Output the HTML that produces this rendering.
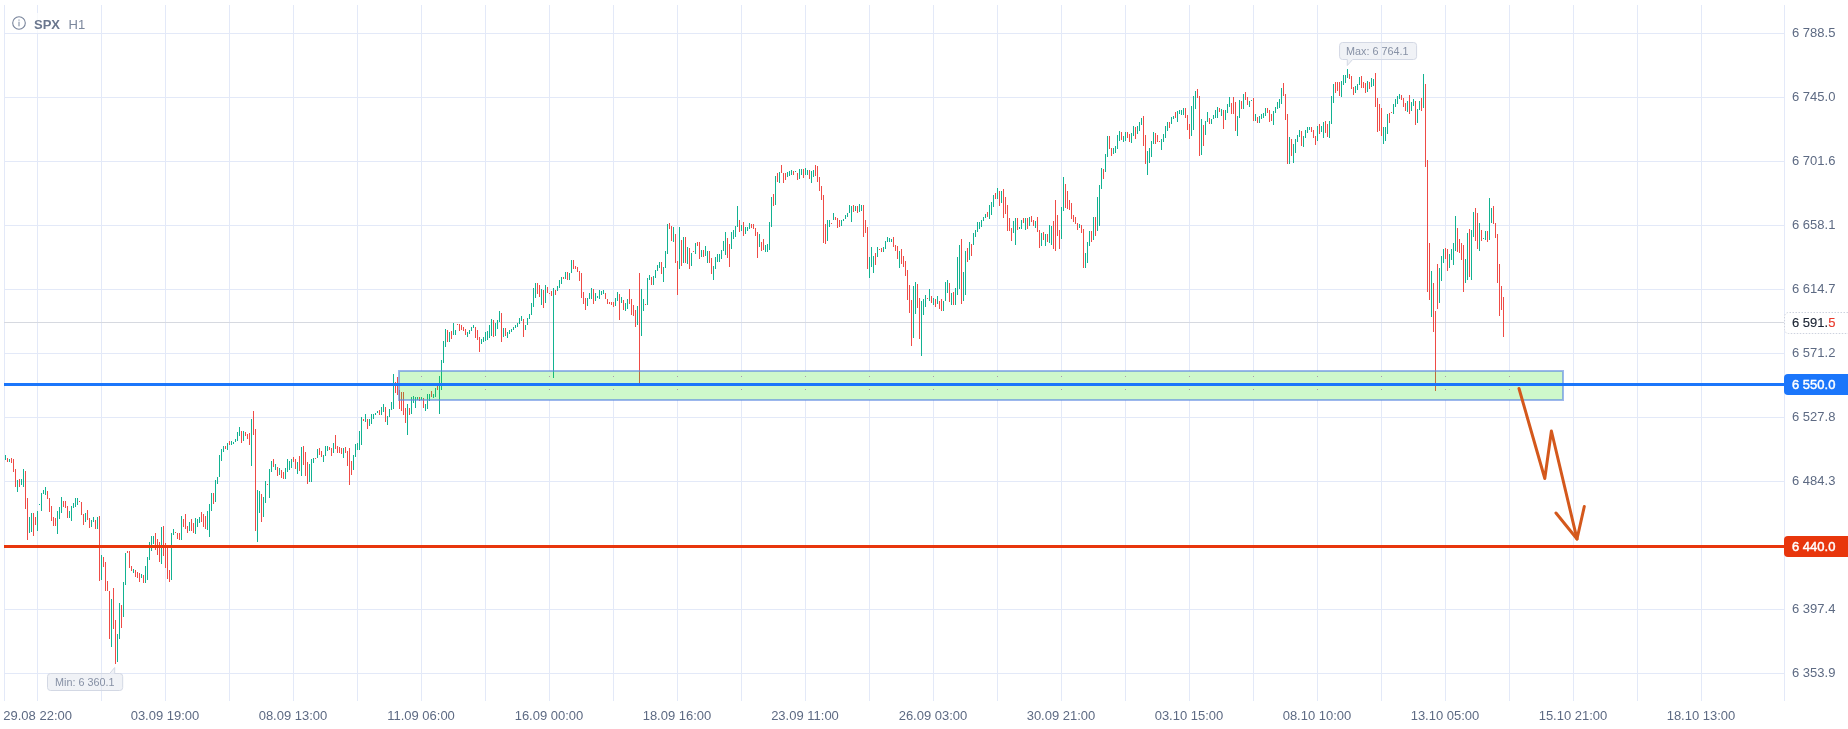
<!DOCTYPE html><html><head><meta charset="utf-8"><title>SPX H1</title>
<style>html,body{margin:0;padding:0;background:#fff}body{width:1848px;height:729px;overflow:hidden}svg{display:block}text{font-family:"Liberation Sans",Arial,sans-serif}</style></head><body>
<svg width="1848" height="729" viewBox="0 0 1848 729">
<rect width="1848" height="729" fill="#fff"/>
<g fill="#e3e9f8" shape-rendering="crispEdges">
<rect x="4" y="5" width="1" height="696"/>
<rect x="37" y="5" width="1" height="696"/>
<rect x="101" y="5" width="1" height="696"/>
<rect x="165" y="5" width="1" height="696"/>
<rect x="229" y="5" width="1" height="696"/>
<rect x="293" y="5" width="1" height="696"/>
<rect x="357" y="5" width="1" height="696"/>
<rect x="421" y="5" width="1" height="696"/>
<rect x="485" y="5" width="1" height="696"/>
<rect x="549" y="5" width="1" height="696"/>
<rect x="613" y="5" width="1" height="696"/>
<rect x="677" y="5" width="1" height="696"/>
<rect x="741" y="5" width="1" height="696"/>
<rect x="805" y="5" width="1" height="696"/>
<rect x="869" y="5" width="1" height="696"/>
<rect x="933" y="5" width="1" height="696"/>
<rect x="997" y="5" width="1" height="696"/>
<rect x="1061" y="5" width="1" height="696"/>
<rect x="1125" y="5" width="1" height="696"/>
<rect x="1189" y="5" width="1" height="696"/>
<rect x="1253" y="5" width="1" height="696"/>
<rect x="1317" y="5" width="1" height="696"/>
<rect x="1381" y="5" width="1" height="696"/>
<rect x="1445" y="5" width="1" height="696"/>
<rect x="1509" y="5" width="1" height="696"/>
<rect x="1573" y="5" width="1" height="696"/>
<rect x="1637" y="5" width="1" height="696"/>
<rect x="1701" y="5" width="1" height="696"/>
<rect x="1784" y="5" width="1" height="696"/>
<rect x="4" y="33" width="1780" height="1"/>
<rect x="4" y="97" width="1780" height="1"/>
<rect x="4" y="161" width="1780" height="1"/>
<rect x="4" y="225" width="1780" height="1"/>
<rect x="4" y="289" width="1780" height="1"/>
<rect x="4" y="353" width="1780" height="1"/>
<rect x="4" y="417" width="1780" height="1"/>
<rect x="4" y="481" width="1780" height="1"/>
<rect x="4" y="545" width="1780" height="1"/>
<rect x="4" y="609" width="1780" height="1"/>
<rect x="4" y="673" width="1780" height="1"/>
</g>
<rect x="4" y="322" width="1780" height="1" fill="#d6d9e0" shape-rendering="crispEdges"/>
<rect x="399" y="371" width="1164" height="29" fill="#fff"/>
<rect x="8" y="13" width="84" height="20" fill="#fff" fill-opacity="0.75"/>
<g fill="#12b291" shape-rendering="crispEdges">
<rect x="5" y="455" width="1" height="5"/>
<rect x="9" y="459" width="1" height="3"/>
<rect x="17" y="480" width="1" height="12"/>
<rect x="21" y="479" width="1" height="6"/>
<rect x="23" y="469" width="1" height="18"/>
<rect x="29" y="517" width="1" height="16"/>
<rect x="31" y="513" width="1" height="19"/>
<rect x="37" y="511" width="1" height="20"/>
<rect x="39" y="504" width="1" height="1"/>
<rect x="41" y="493" width="1" height="18"/>
<rect x="43" y="490" width="1" height="4"/>
<rect x="45" y="487" width="1" height="8"/>
<rect x="57" y="511" width="1" height="23"/>
<rect x="59" y="507" width="1" height="12"/>
<rect x="61" y="497" width="1" height="16"/>
<rect x="69" y="511" width="1" height="7"/>
<rect x="71" y="506" width="1" height="15"/>
<rect x="73" y="503" width="1" height="5"/>
<rect x="75" y="498" width="1" height="9"/>
<rect x="77" y="498" width="1" height="7"/>
<rect x="85" y="513" width="1" height="9"/>
<rect x="91" y="520" width="1" height="7"/>
<rect x="93" y="517" width="1" height="5"/>
<rect x="97" y="517" width="1" height="12"/>
<rect x="101" y="555" width="1" height="25"/>
<rect x="111" y="599" width="1" height="48"/>
<rect x="117" y="634" width="1" height="28"/>
<rect x="119" y="603" width="1" height="36"/>
<rect x="123" y="582" width="1" height="35"/>
<rect x="125" y="553" width="1" height="32"/>
<rect x="133" y="569" width="1" height="4"/>
<rect x="141" y="574" width="1" height="4"/>
<rect x="145" y="566" width="1" height="17"/>
<rect x="147" y="557" width="1" height="23"/>
<rect x="149" y="542" width="1" height="18"/>
<rect x="151" y="536" width="1" height="15"/>
<rect x="153" y="536" width="1" height="8"/>
<rect x="161" y="527" width="1" height="37"/>
<rect x="171" y="533" width="1" height="47"/>
<rect x="173" y="529" width="1" height="6"/>
<rect x="181" y="516" width="1" height="24"/>
<rect x="189" y="522" width="1" height="9"/>
<rect x="195" y="518" width="1" height="16"/>
<rect x="197" y="519" width="1" height="8"/>
<rect x="199" y="517" width="1" height="6"/>
<rect x="207" y="511" width="1" height="19"/>
<rect x="209" y="504" width="1" height="33"/>
<rect x="211" y="493" width="1" height="18"/>
<rect x="215" y="480" width="1" height="22"/>
<rect x="217" y="477" width="1" height="7"/>
<rect x="219" y="455" width="1" height="22"/>
<rect x="221" y="449" width="1" height="12"/>
<rect x="223" y="446" width="1" height="6"/>
<rect x="227" y="443" width="1" height="7"/>
<rect x="231" y="441" width="1" height="4"/>
<rect x="233" y="442" width="1" height="2"/>
<rect x="235" y="439" width="1" height="3"/>
<rect x="237" y="432" width="1" height="9"/>
<rect x="239" y="427" width="1" height="9"/>
<rect x="243" y="431" width="1" height="10"/>
<rect x="251" y="419" width="1" height="47"/>
<rect x="257" y="490" width="1" height="52"/>
<rect x="259" y="491" width="1" height="22"/>
<rect x="263" y="497" width="1" height="20"/>
<rect x="265" y="481" width="1" height="22"/>
<rect x="269" y="469" width="1" height="29"/>
<rect x="271" y="461" width="1" height="11"/>
<rect x="275" y="464" width="1" height="6"/>
<rect x="279" y="468" width="1" height="7"/>
<rect x="285" y="468" width="1" height="11"/>
<rect x="287" y="459" width="1" height="13"/>
<rect x="289" y="461" width="1" height="9"/>
<rect x="291" y="459" width="1" height="9"/>
<rect x="297" y="462" width="1" height="12"/>
<rect x="301" y="447" width="1" height="29"/>
<rect x="309" y="464" width="1" height="18"/>
<rect x="311" y="459" width="1" height="23"/>
<rect x="313" y="458" width="1" height="5"/>
<rect x="317" y="449" width="1" height="9"/>
<rect x="323" y="455" width="1" height="7"/>
<rect x="325" y="446" width="1" height="10"/>
<rect x="327" y="446" width="1" height="5"/>
<rect x="333" y="443" width="1" height="10"/>
<rect x="343" y="448" width="1" height="10"/>
<rect x="353" y="455" width="1" height="15"/>
<rect x="355" y="444" width="1" height="13"/>
<rect x="357" y="443" width="1" height="7"/>
<rect x="359" y="431" width="1" height="19"/>
<rect x="361" y="417" width="1" height="28"/>
<rect x="365" y="414" width="1" height="8"/>
<rect x="369" y="419" width="1" height="7"/>
<rect x="371" y="414" width="1" height="10"/>
<rect x="373" y="414" width="1" height="5"/>
<rect x="375" y="413" width="1" height="2"/>
<rect x="377" y="411" width="1" height="2"/>
<rect x="381" y="407" width="1" height="8"/>
<rect x="383" y="404" width="1" height="8"/>
<rect x="387" y="416" width="1" height="9"/>
<rect x="389" y="409" width="1" height="8"/>
<rect x="391" y="402" width="1" height="8"/>
<rect x="393" y="374" width="1" height="35"/>
<rect x="407" y="404" width="1" height="31"/>
<rect x="411" y="397" width="1" height="17"/>
<rect x="413" y="396" width="1" height="7"/>
<rect x="415" y="397" width="1" height="11"/>
<rect x="417" y="397" width="1" height="3"/>
<rect x="421" y="397" width="1" height="3"/>
<rect x="425" y="404" width="1" height="7"/>
<rect x="427" y="394" width="1" height="15"/>
<rect x="429" y="394" width="1" height="7"/>
<rect x="433" y="394" width="1" height="4"/>
<rect x="435" y="388" width="1" height="9"/>
<rect x="439" y="376" width="1" height="38"/>
<rect x="441" y="360" width="1" height="30"/>
<rect x="443" y="341" width="1" height="22"/>
<rect x="445" y="329" width="1" height="18"/>
<rect x="449" y="332" width="1" height="10"/>
<rect x="453" y="323" width="1" height="12"/>
<rect x="455" y="330" width="1" height="5"/>
<rect x="467" y="332" width="1" height="5"/>
<rect x="469" y="330" width="1" height="4"/>
<rect x="471" y="327" width="1" height="4"/>
<rect x="473" y="325" width="1" height="3"/>
<rect x="481" y="339" width="1" height="5"/>
<rect x="483" y="337" width="1" height="5"/>
<rect x="485" y="332" width="1" height="9"/>
<rect x="487" y="331" width="1" height="9"/>
<rect x="489" y="325" width="1" height="13"/>
<rect x="491" y="319" width="1" height="17"/>
<rect x="495" y="323" width="1" height="13"/>
<rect x="497" y="320" width="1" height="9"/>
<rect x="499" y="311" width="1" height="11"/>
<rect x="503" y="328" width="1" height="9"/>
<rect x="507" y="332" width="1" height="6"/>
<rect x="509" y="330" width="1" height="4"/>
<rect x="511" y="329" width="1" height="3"/>
<rect x="513" y="327" width="1" height="3"/>
<rect x="515" y="325" width="1" height="3"/>
<rect x="517" y="323" width="1" height="4"/>
<rect x="519" y="318" width="1" height="6"/>
<rect x="521" y="316" width="1" height="5"/>
<rect x="525" y="325" width="1" height="5"/>
<rect x="527" y="318" width="1" height="7"/>
<rect x="529" y="314" width="1" height="5"/>
<rect x="531" y="303" width="1" height="12"/>
<rect x="533" y="288" width="1" height="19"/>
<rect x="535" y="283" width="1" height="15"/>
<rect x="541" y="289" width="1" height="16"/>
<rect x="545" y="285" width="1" height="18"/>
<rect x="553" y="288" width="1" height="90"/>
<rect x="557" y="286" width="1" height="5"/>
<rect x="559" y="280" width="1" height="8"/>
<rect x="561" y="277" width="1" height="7"/>
<rect x="565" y="272" width="1" height="7"/>
<rect x="569" y="273" width="1" height="7"/>
<rect x="571" y="260" width="1" height="13"/>
<rect x="587" y="298" width="1" height="8"/>
<rect x="589" y="293" width="1" height="6"/>
<rect x="591" y="288" width="1" height="11"/>
<rect x="595" y="293" width="1" height="8"/>
<rect x="597" y="296" width="1" height="2"/>
<rect x="599" y="290" width="1" height="9"/>
<rect x="601" y="291" width="1" height="4"/>
<rect x="603" y="290" width="1" height="4"/>
<rect x="615" y="298" width="1" height="8"/>
<rect x="617" y="292" width="1" height="9"/>
<rect x="621" y="297" width="1" height="6"/>
<rect x="625" y="303" width="1" height="8"/>
<rect x="627" y="299" width="1" height="10"/>
<rect x="637" y="306" width="1" height="19"/>
<rect x="641" y="289" width="1" height="47"/>
<rect x="643" y="299" width="1" height="12"/>
<rect x="647" y="278" width="1" height="27"/>
<rect x="649" y="275" width="1" height="5"/>
<rect x="653" y="276" width="1" height="9"/>
<rect x="655" y="270" width="1" height="8"/>
<rect x="657" y="265" width="1" height="6"/>
<rect x="659" y="262" width="1" height="6"/>
<rect x="663" y="267" width="1" height="15"/>
<rect x="665" y="251" width="1" height="17"/>
<rect x="667" y="224" width="1" height="30"/>
<rect x="673" y="227" width="1" height="15"/>
<rect x="679" y="227" width="1" height="42"/>
<rect x="683" y="237" width="1" height="26"/>
<rect x="687" y="247" width="1" height="17"/>
<rect x="691" y="253" width="1" height="13"/>
<rect x="695" y="243" width="1" height="11"/>
<rect x="701" y="250" width="1" height="7"/>
<rect x="705" y="246" width="1" height="10"/>
<rect x="707" y="251" width="1" height="12"/>
<rect x="713" y="266" width="1" height="14"/>
<rect x="715" y="257" width="1" height="12"/>
<rect x="717" y="254" width="1" height="8"/>
<rect x="719" y="254" width="1" height="8"/>
<rect x="721" y="250" width="1" height="9"/>
<rect x="723" y="241" width="1" height="10"/>
<rect x="725" y="232" width="1" height="23"/>
<rect x="731" y="232" width="1" height="17"/>
<rect x="733" y="230" width="1" height="9"/>
<rect x="735" y="226" width="1" height="11"/>
<rect x="737" y="206" width="1" height="21"/>
<rect x="741" y="225" width="1" height="6"/>
<rect x="745" y="227" width="1" height="7"/>
<rect x="747" y="227" width="1" height="4"/>
<rect x="749" y="223" width="1" height="6"/>
<rect x="759" y="234" width="1" height="13"/>
<rect x="765" y="245" width="1" height="7"/>
<rect x="767" y="244" width="1" height="8"/>
<rect x="769" y="222" width="1" height="28"/>
<rect x="771" y="197" width="1" height="30"/>
<rect x="775" y="176" width="1" height="29"/>
<rect x="779" y="172" width="1" height="11"/>
<rect x="787" y="172" width="1" height="5"/>
<rect x="789" y="171" width="1" height="5"/>
<rect x="791" y="170" width="1" height="5"/>
<rect x="795" y="171" width="1" height="1"/>
<rect x="799" y="169" width="1" height="10"/>
<rect x="801" y="169" width="1" height="6"/>
<rect x="805" y="168" width="1" height="7"/>
<rect x="807" y="170" width="1" height="5"/>
<rect x="811" y="171" width="1" height="12"/>
<rect x="813" y="170" width="1" height="7"/>
<rect x="827" y="220" width="1" height="21"/>
<rect x="829" y="220" width="1" height="7"/>
<rect x="833" y="213" width="1" height="7"/>
<rect x="841" y="220" width="1" height="6"/>
<rect x="843" y="219" width="1" height="2"/>
<rect x="845" y="215" width="1" height="4"/>
<rect x="847" y="213" width="1" height="4"/>
<rect x="849" y="205" width="1" height="8"/>
<rect x="851" y="206" width="1" height="16"/>
<rect x="855" y="206" width="1" height="5"/>
<rect x="859" y="204" width="1" height="8"/>
<rect x="861" y="205" width="1" height="6"/>
<rect x="869" y="257" width="1" height="21"/>
<rect x="871" y="247" width="1" height="20"/>
<rect x="873" y="256" width="1" height="17"/>
<rect x="877" y="247" width="1" height="10"/>
<rect x="883" y="247" width="1" height="5"/>
<rect x="885" y="241" width="1" height="8"/>
<rect x="887" y="237" width="1" height="5"/>
<rect x="889" y="238" width="1" height="4"/>
<rect x="891" y="239" width="1" height="3"/>
<rect x="899" y="251" width="1" height="17"/>
<rect x="913" y="286" width="1" height="52"/>
<rect x="915" y="282" width="1" height="32"/>
<rect x="921" y="301" width="1" height="55"/>
<rect x="923" y="299" width="1" height="16"/>
<rect x="925" y="295" width="1" height="12"/>
<rect x="929" y="289" width="1" height="12"/>
<rect x="933" y="298" width="1" height="7"/>
<rect x="937" y="296" width="1" height="8"/>
<rect x="943" y="301" width="1" height="10"/>
<rect x="945" y="282" width="1" height="19"/>
<rect x="947" y="280" width="1" height="13"/>
<rect x="951" y="293" width="1" height="12"/>
<rect x="955" y="288" width="1" height="17"/>
<rect x="957" y="257" width="1" height="38"/>
<rect x="959" y="245" width="1" height="44"/>
<rect x="963" y="272" width="1" height="29"/>
<rect x="965" y="251" width="1" height="44"/>
<rect x="969" y="242" width="1" height="18"/>
<rect x="973" y="233" width="1" height="12"/>
<rect x="975" y="230" width="1" height="7"/>
<rect x="977" y="222" width="1" height="10"/>
<rect x="979" y="222" width="1" height="7"/>
<rect x="981" y="220" width="1" height="7"/>
<rect x="983" y="217" width="1" height="4"/>
<rect x="985" y="214" width="1" height="4"/>
<rect x="989" y="205" width="1" height="14"/>
<rect x="991" y="202" width="1" height="13"/>
<rect x="993" y="195" width="1" height="12"/>
<rect x="997" y="188" width="1" height="11"/>
<rect x="1001" y="191" width="1" height="12"/>
<rect x="1013" y="221" width="1" height="12"/>
<rect x="1015" y="218" width="1" height="27"/>
<rect x="1019" y="227" width="1" height="2"/>
<rect x="1021" y="220" width="1" height="9"/>
<rect x="1025" y="218" width="1" height="12"/>
<rect x="1029" y="217" width="1" height="9"/>
<rect x="1035" y="221" width="1" height="7"/>
<rect x="1041" y="233" width="1" height="13"/>
<rect x="1045" y="234" width="1" height="12"/>
<rect x="1049" y="225" width="1" height="18"/>
<rect x="1051" y="226" width="1" height="19"/>
<rect x="1061" y="207" width="1" height="32"/>
<rect x="1063" y="177" width="1" height="34"/>
<rect x="1079" y="224" width="1" height="4"/>
<rect x="1085" y="253" width="1" height="15"/>
<rect x="1087" y="242" width="1" height="21"/>
<rect x="1089" y="231" width="1" height="15"/>
<rect x="1093" y="217" width="1" height="23"/>
<rect x="1097" y="197" width="1" height="34"/>
<rect x="1099" y="185" width="1" height="41"/>
<rect x="1101" y="168" width="1" height="21"/>
<rect x="1105" y="154" width="1" height="18"/>
<rect x="1107" y="136" width="1" height="21"/>
<rect x="1113" y="148" width="1" height="6"/>
<rect x="1115" y="146" width="1" height="7"/>
<rect x="1117" y="135" width="1" height="14"/>
<rect x="1119" y="131" width="1" height="10"/>
<rect x="1123" y="136" width="1" height="6"/>
<rect x="1125" y="132" width="1" height="9"/>
<rect x="1131" y="133" width="1" height="10"/>
<rect x="1133" y="126" width="1" height="10"/>
<rect x="1137" y="126" width="1" height="8"/>
<rect x="1139" y="122" width="1" height="9"/>
<rect x="1141" y="118" width="1" height="7"/>
<rect x="1147" y="151" width="1" height="24"/>
<rect x="1149" y="148" width="1" height="15"/>
<rect x="1151" y="141" width="1" height="16"/>
<rect x="1153" y="132" width="1" height="12"/>
<rect x="1161" y="139" width="1" height="11"/>
<rect x="1163" y="134" width="1" height="8"/>
<rect x="1165" y="126" width="1" height="12"/>
<rect x="1167" y="122" width="1" height="9"/>
<rect x="1171" y="117" width="1" height="7"/>
<rect x="1173" y="116" width="1" height="3"/>
<rect x="1177" y="111" width="1" height="11"/>
<rect x="1179" y="110" width="1" height="4"/>
<rect x="1181" y="110" width="1" height="5"/>
<rect x="1183" y="108" width="1" height="7"/>
<rect x="1191" y="106" width="1" height="30"/>
<rect x="1193" y="96" width="1" height="34"/>
<rect x="1195" y="91" width="1" height="18"/>
<rect x="1201" y="119" width="1" height="36"/>
<rect x="1205" y="121" width="1" height="14"/>
<rect x="1207" y="112" width="1" height="10"/>
<rect x="1211" y="119" width="1" height="5"/>
<rect x="1213" y="115" width="1" height="4"/>
<rect x="1215" y="110" width="1" height="8"/>
<rect x="1217" y="107" width="1" height="11"/>
<rect x="1221" y="109" width="1" height="7"/>
<rect x="1225" y="110" width="1" height="10"/>
<rect x="1227" y="104" width="1" height="9"/>
<rect x="1229" y="97" width="1" height="10"/>
<rect x="1237" y="116" width="1" height="20"/>
<rect x="1239" y="100" width="1" height="18"/>
<rect x="1243" y="94" width="1" height="15"/>
<rect x="1249" y="101" width="1" height="6"/>
<rect x="1251" y="100" width="1" height="1"/>
<rect x="1255" y="114" width="1" height="7"/>
<rect x="1259" y="116" width="1" height="7"/>
<rect x="1261" y="114" width="1" height="5"/>
<rect x="1263" y="113" width="1" height="5"/>
<rect x="1265" y="108" width="1" height="8"/>
<rect x="1273" y="111" width="1" height="14"/>
<rect x="1275" y="107" width="1" height="6"/>
<rect x="1277" y="102" width="1" height="7"/>
<rect x="1279" y="99" width="1" height="9"/>
<rect x="1281" y="88" width="1" height="16"/>
<rect x="1289" y="137" width="1" height="27"/>
<rect x="1293" y="144" width="1" height="19"/>
<rect x="1295" y="139" width="1" height="14"/>
<rect x="1297" y="135" width="1" height="7"/>
<rect x="1299" y="130" width="1" height="7"/>
<rect x="1303" y="136" width="1" height="11"/>
<rect x="1305" y="130" width="1" height="8"/>
<rect x="1307" y="127" width="1" height="6"/>
<rect x="1309" y="127" width="1" height="3"/>
<rect x="1317" y="126" width="1" height="15"/>
<rect x="1321" y="126" width="1" height="6"/>
<rect x="1323" y="122" width="1" height="16"/>
<rect x="1329" y="121" width="1" height="17"/>
<rect x="1331" y="96" width="1" height="28"/>
<rect x="1333" y="84" width="1" height="19"/>
<rect x="1341" y="81" width="1" height="16"/>
<rect x="1343" y="75" width="1" height="10"/>
<rect x="1345" y="75" width="1" height="8"/>
<rect x="1347" y="69" width="1" height="9"/>
<rect x="1355" y="86" width="1" height="7"/>
<rect x="1357" y="84" width="1" height="6"/>
<rect x="1359" y="77" width="1" height="8"/>
<rect x="1367" y="81" width="1" height="11"/>
<rect x="1371" y="78" width="1" height="9"/>
<rect x="1373" y="79" width="1" height="7"/>
<rect x="1383" y="127" width="1" height="17"/>
<rect x="1385" y="127" width="1" height="14"/>
<rect x="1387" y="114" width="1" height="20"/>
<rect x="1393" y="104" width="1" height="10"/>
<rect x="1395" y="99" width="1" height="8"/>
<rect x="1397" y="96" width="1" height="8"/>
<rect x="1399" y="94" width="1" height="5"/>
<rect x="1407" y="101" width="1" height="11"/>
<rect x="1411" y="102" width="1" height="9"/>
<rect x="1413" y="99" width="1" height="7"/>
<rect x="1417" y="109" width="1" height="14"/>
<rect x="1419" y="101" width="1" height="9"/>
<rect x="1423" y="74" width="1" height="34"/>
<rect x="1431" y="271" width="1" height="46"/>
<rect x="1439" y="268" width="1" height="35"/>
<rect x="1441" y="256" width="1" height="25"/>
<rect x="1443" y="249" width="1" height="14"/>
<rect x="1449" y="254" width="1" height="14"/>
<rect x="1451" y="249" width="1" height="11"/>
<rect x="1453" y="243" width="1" height="22"/>
<rect x="1455" y="216" width="1" height="35"/>
<rect x="1465" y="259" width="1" height="24"/>
<rect x="1467" y="233" width="1" height="47"/>
<rect x="1471" y="230" width="1" height="50"/>
<rect x="1473" y="212" width="1" height="25"/>
<rect x="1479" y="223" width="1" height="28"/>
<rect x="1483" y="238" width="1" height="1"/>
<rect x="1485" y="231" width="1" height="9"/>
<rect x="1489" y="198" width="1" height="42"/>
<rect x="1491" y="208" width="1" height="15"/>
</g>
<g fill="#ef4b46" shape-rendering="crispEdges">
<rect x="7" y="458" width="1" height="4"/>
<rect x="11" y="458" width="1" height="5"/>
<rect x="13" y="459" width="1" height="13"/>
<rect x="15" y="469" width="1" height="18"/>
<rect x="19" y="479" width="1" height="8"/>
<rect x="25" y="471" width="1" height="38"/>
<rect x="27" y="498" width="1" height="42"/>
<rect x="33" y="513" width="1" height="23"/>
<rect x="35" y="517" width="1" height="8"/>
<rect x="47" y="491" width="1" height="8"/>
<rect x="49" y="498" width="1" height="14"/>
<rect x="51" y="506" width="1" height="15"/>
<rect x="53" y="517" width="1" height="9"/>
<rect x="55" y="518" width="1" height="8"/>
<rect x="63" y="501" width="1" height="6"/>
<rect x="65" y="501" width="1" height="7"/>
<rect x="67" y="506" width="1" height="12"/>
<rect x="79" y="501" width="1" height="1"/>
<rect x="81" y="502" width="1" height="13"/>
<rect x="83" y="514" width="1" height="11"/>
<rect x="87" y="510" width="1" height="10"/>
<rect x="89" y="518" width="1" height="10"/>
<rect x="95" y="520" width="1" height="9"/>
<rect x="99" y="516" width="1" height="65"/>
<rect x="103" y="557" width="1" height="10"/>
<rect x="105" y="562" width="1" height="29"/>
<rect x="107" y="581" width="1" height="10"/>
<rect x="109" y="591" width="1" height="48"/>
<rect x="113" y="588" width="1" height="41"/>
<rect x="115" y="620" width="1" height="44"/>
<rect x="121" y="605" width="1" height="23"/>
<rect x="127" y="551" width="1" height="2"/>
<rect x="129" y="551" width="1" height="17"/>
<rect x="131" y="566" width="1" height="5"/>
<rect x="135" y="570" width="1" height="7"/>
<rect x="137" y="572" width="1" height="6"/>
<rect x="139" y="573" width="1" height="9"/>
<rect x="143" y="575" width="1" height="8"/>
<rect x="155" y="533" width="1" height="17"/>
<rect x="157" y="539" width="1" height="16"/>
<rect x="159" y="542" width="1" height="20"/>
<rect x="163" y="526" width="1" height="30"/>
<rect x="165" y="543" width="1" height="25"/>
<rect x="167" y="546" width="1" height="33"/>
<rect x="169" y="570" width="1" height="12"/>
<rect x="175" y="532" width="1" height="1"/>
<rect x="177" y="533" width="1" height="6"/>
<rect x="179" y="533" width="1" height="7"/>
<rect x="183" y="519" width="1" height="8"/>
<rect x="185" y="514" width="1" height="15"/>
<rect x="187" y="526" width="1" height="7"/>
<rect x="191" y="519" width="1" height="12"/>
<rect x="193" y="523" width="1" height="10"/>
<rect x="201" y="512" width="1" height="10"/>
<rect x="203" y="514" width="1" height="13"/>
<rect x="205" y="516" width="1" height="13"/>
<rect x="213" y="493" width="1" height="11"/>
<rect x="225" y="446" width="1" height="3"/>
<rect x="229" y="441" width="1" height="4"/>
<rect x="241" y="431" width="1" height="12"/>
<rect x="245" y="432" width="1" height="4"/>
<rect x="247" y="434" width="1" height="5"/>
<rect x="249" y="433" width="1" height="12"/>
<rect x="253" y="411" width="1" height="24"/>
<rect x="255" y="429" width="1" height="102"/>
<rect x="261" y="494" width="1" height="28"/>
<rect x="267" y="484" width="1" height="1"/>
<rect x="273" y="459" width="1" height="8"/>
<rect x="277" y="467" width="1" height="9"/>
<rect x="281" y="470" width="1" height="8"/>
<rect x="283" y="472" width="1" height="7"/>
<rect x="293" y="457" width="1" height="5"/>
<rect x="295" y="459" width="1" height="10"/>
<rect x="299" y="456" width="1" height="15"/>
<rect x="303" y="446" width="1" height="19"/>
<rect x="305" y="452" width="1" height="24"/>
<rect x="307" y="462" width="1" height="22"/>
<rect x="315" y="458" width="1" height="1"/>
<rect x="319" y="448" width="1" height="7"/>
<rect x="321" y="451" width="1" height="6"/>
<rect x="329" y="447" width="1" height="3"/>
<rect x="331" y="448" width="1" height="8"/>
<rect x="335" y="435" width="1" height="14"/>
<rect x="337" y="446" width="1" height="7"/>
<rect x="339" y="447" width="1" height="6"/>
<rect x="341" y="448" width="1" height="6"/>
<rect x="345" y="447" width="1" height="6"/>
<rect x="347" y="451" width="1" height="15"/>
<rect x="349" y="448" width="1" height="37"/>
<rect x="351" y="461" width="1" height="14"/>
<rect x="363" y="419" width="1" height="2"/>
<rect x="367" y="419" width="1" height="10"/>
<rect x="379" y="410" width="1" height="5"/>
<rect x="385" y="407" width="1" height="15"/>
<rect x="395" y="382" width="1" height="11"/>
<rect x="397" y="377" width="1" height="18"/>
<rect x="399" y="390" width="1" height="19"/>
<rect x="401" y="392" width="1" height="19"/>
<rect x="403" y="392" width="1" height="23"/>
<rect x="405" y="408" width="1" height="15"/>
<rect x="409" y="408" width="1" height="7"/>
<rect x="419" y="397" width="1" height="4"/>
<rect x="423" y="398" width="1" height="10"/>
<rect x="431" y="391" width="1" height="6"/>
<rect x="437" y="386" width="1" height="4"/>
<rect x="447" y="330" width="1" height="12"/>
<rect x="451" y="331" width="1" height="8"/>
<rect x="457" y="324" width="1" height="1"/>
<rect x="459" y="324" width="1" height="7"/>
<rect x="461" y="325" width="1" height="5"/>
<rect x="463" y="327" width="1" height="4"/>
<rect x="465" y="329" width="1" height="6"/>
<rect x="475" y="327" width="1" height="11"/>
<rect x="477" y="330" width="1" height="10"/>
<rect x="479" y="337" width="1" height="15"/>
<rect x="493" y="320" width="1" height="17"/>
<rect x="501" y="313" width="1" height="29"/>
<rect x="505" y="328" width="1" height="8"/>
<rect x="523" y="319" width="1" height="18"/>
<rect x="537" y="283" width="1" height="11"/>
<rect x="539" y="285" width="1" height="12"/>
<rect x="543" y="290" width="1" height="18"/>
<rect x="547" y="287" width="1" height="6"/>
<rect x="549" y="293" width="1" height="1"/>
<rect x="551" y="291" width="1" height="5"/>
<rect x="555" y="290" width="1" height="5"/>
<rect x="563" y="277" width="1" height="2"/>
<rect x="567" y="272" width="1" height="8"/>
<rect x="573" y="260" width="1" height="9"/>
<rect x="575" y="266" width="1" height="3"/>
<rect x="577" y="267" width="1" height="5"/>
<rect x="579" y="271" width="1" height="10"/>
<rect x="581" y="273" width="1" height="25"/>
<rect x="583" y="292" width="1" height="12"/>
<rect x="585" y="298" width="1" height="12"/>
<rect x="593" y="289" width="1" height="15"/>
<rect x="605" y="293" width="1" height="6"/>
<rect x="607" y="299" width="1" height="5"/>
<rect x="609" y="302" width="1" height="2"/>
<rect x="611" y="302" width="1" height="3"/>
<rect x="613" y="302" width="1" height="5"/>
<rect x="619" y="294" width="1" height="26"/>
<rect x="623" y="300" width="1" height="10"/>
<rect x="629" y="289" width="1" height="15"/>
<rect x="631" y="299" width="1" height="16"/>
<rect x="633" y="305" width="1" height="11"/>
<rect x="635" y="310" width="1" height="17"/>
<rect x="639" y="273" width="1" height="110"/>
<rect x="645" y="304" width="1" height="1"/>
<rect x="651" y="277" width="1" height="8"/>
<rect x="661" y="262" width="1" height="12"/>
<rect x="669" y="223" width="1" height="6"/>
<rect x="671" y="226" width="1" height="15"/>
<rect x="675" y="234" width="1" height="29"/>
<rect x="677" y="261" width="1" height="34"/>
<rect x="681" y="240" width="1" height="26"/>
<rect x="685" y="237" width="1" height="26"/>
<rect x="689" y="248" width="1" height="21"/>
<rect x="693" y="251" width="1" height="1"/>
<rect x="697" y="242" width="1" height="4"/>
<rect x="699" y="242" width="1" height="17"/>
<rect x="703" y="250" width="1" height="7"/>
<rect x="709" y="251" width="1" height="12"/>
<rect x="711" y="258" width="1" height="16"/>
<rect x="727" y="238" width="1" height="20"/>
<rect x="729" y="244" width="1" height="23"/>
<rect x="739" y="220" width="1" height="12"/>
<rect x="743" y="222" width="1" height="14"/>
<rect x="751" y="224" width="1" height="4"/>
<rect x="753" y="224" width="1" height="5"/>
<rect x="755" y="228" width="1" height="8"/>
<rect x="757" y="232" width="1" height="26"/>
<rect x="761" y="242" width="1" height="9"/>
<rect x="763" y="239" width="1" height="11"/>
<rect x="773" y="194" width="1" height="12"/>
<rect x="777" y="173" width="1" height="9"/>
<rect x="781" y="165" width="1" height="8"/>
<rect x="783" y="173" width="1" height="10"/>
<rect x="785" y="173" width="1" height="7"/>
<rect x="793" y="171" width="1" height="4"/>
<rect x="797" y="173" width="1" height="7"/>
<rect x="803" y="169" width="1" height="9"/>
<rect x="809" y="170" width="1" height="9"/>
<rect x="815" y="165" width="1" height="11"/>
<rect x="817" y="166" width="1" height="16"/>
<rect x="819" y="177" width="1" height="14"/>
<rect x="821" y="186" width="1" height="14"/>
<rect x="823" y="195" width="1" height="48"/>
<rect x="825" y="224" width="1" height="20"/>
<rect x="831" y="223" width="1" height="1"/>
<rect x="835" y="217" width="1" height="3"/>
<rect x="837" y="218" width="1" height="10"/>
<rect x="839" y="220" width="1" height="7"/>
<rect x="853" y="205" width="1" height="7"/>
<rect x="857" y="206" width="1" height="7"/>
<rect x="863" y="205" width="1" height="32"/>
<rect x="865" y="220" width="1" height="13"/>
<rect x="867" y="227" width="1" height="42"/>
<rect x="875" y="253" width="1" height="12"/>
<rect x="879" y="249" width="1" height="1"/>
<rect x="881" y="248" width="1" height="4"/>
<rect x="893" y="237" width="1" height="10"/>
<rect x="895" y="245" width="1" height="6"/>
<rect x="897" y="246" width="1" height="13"/>
<rect x="901" y="249" width="1" height="15"/>
<rect x="903" y="256" width="1" height="11"/>
<rect x="905" y="261" width="1" height="15"/>
<rect x="907" y="270" width="1" height="30"/>
<rect x="909" y="285" width="1" height="28"/>
<rect x="911" y="300" width="1" height="46"/>
<rect x="917" y="284" width="1" height="24"/>
<rect x="919" y="298" width="1" height="41"/>
<rect x="927" y="298" width="1" height="1"/>
<rect x="931" y="296" width="1" height="7"/>
<rect x="935" y="299" width="1" height="8"/>
<rect x="939" y="301" width="1" height="8"/>
<rect x="941" y="299" width="1" height="12"/>
<rect x="949" y="283" width="1" height="19"/>
<rect x="953" y="292" width="1" height="13"/>
<rect x="961" y="239" width="1" height="65"/>
<rect x="967" y="248" width="1" height="14"/>
<rect x="971" y="244" width="1" height="12"/>
<rect x="987" y="212" width="1" height="5"/>
<rect x="995" y="193" width="1" height="6"/>
<rect x="999" y="191" width="1" height="15"/>
<rect x="1003" y="189" width="1" height="29"/>
<rect x="1005" y="197" width="1" height="17"/>
<rect x="1007" y="205" width="1" height="26"/>
<rect x="1009" y="218" width="1" height="13"/>
<rect x="1011" y="228" width="1" height="13"/>
<rect x="1017" y="218" width="1" height="12"/>
<rect x="1023" y="218" width="1" height="5"/>
<rect x="1027" y="218" width="1" height="11"/>
<rect x="1031" y="216" width="1" height="6"/>
<rect x="1033" y="220" width="1" height="6"/>
<rect x="1037" y="217" width="1" height="15"/>
<rect x="1039" y="230" width="1" height="18"/>
<rect x="1043" y="232" width="1" height="8"/>
<rect x="1047" y="234" width="1" height="8"/>
<rect x="1053" y="221" width="1" height="28"/>
<rect x="1055" y="200" width="1" height="51"/>
<rect x="1057" y="215" width="1" height="21"/>
<rect x="1059" y="230" width="1" height="19"/>
<rect x="1065" y="184" width="1" height="24"/>
<rect x="1067" y="191" width="1" height="18"/>
<rect x="1069" y="200" width="1" height="10"/>
<rect x="1071" y="203" width="1" height="16"/>
<rect x="1073" y="215" width="1" height="7"/>
<rect x="1075" y="217" width="1" height="7"/>
<rect x="1077" y="223" width="1" height="7"/>
<rect x="1081" y="225" width="1" height="8"/>
<rect x="1083" y="229" width="1" height="39"/>
<rect x="1091" y="231" width="1" height="11"/>
<rect x="1095" y="217" width="1" height="19"/>
<rect x="1103" y="169" width="1" height="10"/>
<rect x="1109" y="136" width="1" height="13"/>
<rect x="1111" y="148" width="1" height="8"/>
<rect x="1121" y="132" width="1" height="8"/>
<rect x="1127" y="132" width="1" height="6"/>
<rect x="1129" y="134" width="1" height="8"/>
<rect x="1135" y="127" width="1" height="12"/>
<rect x="1143" y="116" width="1" height="30"/>
<rect x="1145" y="135" width="1" height="29"/>
<rect x="1155" y="133" width="1" height="11"/>
<rect x="1157" y="135" width="1" height="7"/>
<rect x="1159" y="141" width="1" height="1"/>
<rect x="1169" y="122" width="1" height="6"/>
<rect x="1175" y="112" width="1" height="6"/>
<rect x="1185" y="108" width="1" height="10"/>
<rect x="1187" y="115" width="1" height="15"/>
<rect x="1189" y="124" width="1" height="15"/>
<rect x="1197" y="89" width="1" height="9"/>
<rect x="1199" y="96" width="1" height="60"/>
<rect x="1203" y="125" width="1" height="21"/>
<rect x="1209" y="118" width="1" height="6"/>
<rect x="1219" y="108" width="1" height="4"/>
<rect x="1223" y="110" width="1" height="19"/>
<rect x="1231" y="103" width="1" height="11"/>
<rect x="1233" y="97" width="1" height="17"/>
<rect x="1235" y="102" width="1" height="29"/>
<rect x="1241" y="101" width="1" height="8"/>
<rect x="1245" y="92" width="1" height="8"/>
<rect x="1247" y="97" width="1" height="8"/>
<rect x="1253" y="98" width="1" height="23"/>
<rect x="1257" y="117" width="1" height="6"/>
<rect x="1267" y="108" width="1" height="5"/>
<rect x="1269" y="110" width="1" height="12"/>
<rect x="1271" y="114" width="1" height="7"/>
<rect x="1283" y="83" width="1" height="13"/>
<rect x="1285" y="94" width="1" height="26"/>
<rect x="1287" y="114" width="1" height="50"/>
<rect x="1291" y="139" width="1" height="17"/>
<rect x="1301" y="131" width="1" height="15"/>
<rect x="1311" y="127" width="1" height="5"/>
<rect x="1313" y="130" width="1" height="8"/>
<rect x="1315" y="136" width="1" height="9"/>
<rect x="1319" y="124" width="1" height="10"/>
<rect x="1325" y="121" width="1" height="12"/>
<rect x="1327" y="124" width="1" height="13"/>
<rect x="1335" y="82" width="1" height="11"/>
<rect x="1337" y="82" width="1" height="9"/>
<rect x="1339" y="82" width="1" height="14"/>
<rect x="1349" y="74" width="1" height="5"/>
<rect x="1351" y="76" width="1" height="13"/>
<rect x="1353" y="87" width="1" height="8"/>
<rect x="1361" y="76" width="1" height="12"/>
<rect x="1363" y="82" width="1" height="6"/>
<rect x="1365" y="83" width="1" height="10"/>
<rect x="1369" y="82" width="1" height="7"/>
<rect x="1375" y="73" width="1" height="34"/>
<rect x="1377" y="98" width="1" height="34"/>
<rect x="1379" y="104" width="1" height="27"/>
<rect x="1381" y="108" width="1" height="28"/>
<rect x="1389" y="113" width="1" height="10"/>
<rect x="1391" y="112" width="1" height="1"/>
<rect x="1401" y="95" width="1" height="5"/>
<rect x="1403" y="98" width="1" height="9"/>
<rect x="1405" y="103" width="1" height="8"/>
<rect x="1409" y="95" width="1" height="19"/>
<rect x="1415" y="101" width="1" height="24"/>
<rect x="1421" y="98" width="1" height="13"/>
<rect x="1425" y="84" width="1" height="83"/>
<rect x="1427" y="160" width="1" height="132"/>
<rect x="1429" y="243" width="1" height="57"/>
<rect x="1433" y="283" width="1" height="49"/>
<rect x="1435" y="311" width="1" height="80"/>
<rect x="1437" y="264" width="1" height="45"/>
<rect x="1445" y="248" width="1" height="11"/>
<rect x="1447" y="249" width="1" height="22"/>
<rect x="1457" y="228" width="1" height="24"/>
<rect x="1459" y="239" width="1" height="14"/>
<rect x="1461" y="243" width="1" height="17"/>
<rect x="1463" y="245" width="1" height="47"/>
<rect x="1469" y="229" width="1" height="48"/>
<rect x="1475" y="208" width="1" height="33"/>
<rect x="1477" y="213" width="1" height="36"/>
<rect x="1481" y="230" width="1" height="11"/>
<rect x="1487" y="231" width="1" height="11"/>
<rect x="1493" y="206" width="1" height="18"/>
<rect x="1495" y="223" width="1" height="15"/>
<rect x="1497" y="234" width="1" height="49"/>
<rect x="1499" y="264" width="1" height="52"/>
<rect x="1501" y="286" width="1" height="24"/>
<rect x="1503" y="297" width="1" height="40"/>
</g>
<rect x="399" y="371" width="1164" height="29" fill="rgb(30,225,20)" fill-opacity="0.22" stroke="rgb(90,135,225)" stroke-width="2" stroke-opacity="0.6"/>
<g fill="#a89ab0" shape-rendering="crispEdges">
<rect x="421" y="376" width="1" height="1"/><rect x="421" y="389" width="1" height="1"/>
<rect x="485" y="376" width="1" height="1"/><rect x="485" y="389" width="1" height="1"/>
<rect x="549" y="376" width="1" height="1"/><rect x="549" y="389" width="1" height="1"/>
<rect x="613" y="376" width="1" height="1"/><rect x="613" y="389" width="1" height="1"/>
<rect x="677" y="376" width="1" height="1"/><rect x="677" y="389" width="1" height="1"/>
<rect x="741" y="376" width="1" height="1"/><rect x="741" y="389" width="1" height="1"/>
<rect x="805" y="376" width="1" height="1"/><rect x="805" y="389" width="1" height="1"/>
<rect x="869" y="376" width="1" height="1"/><rect x="869" y="389" width="1" height="1"/>
<rect x="933" y="376" width="1" height="1"/><rect x="933" y="389" width="1" height="1"/>
<rect x="997" y="376" width="1" height="1"/><rect x="997" y="389" width="1" height="1"/>
<rect x="1061" y="376" width="1" height="1"/><rect x="1061" y="389" width="1" height="1"/>
<rect x="1125" y="376" width="1" height="1"/><rect x="1125" y="389" width="1" height="1"/>
<rect x="1189" y="376" width="1" height="1"/><rect x="1189" y="389" width="1" height="1"/>
<rect x="1253" y="376" width="1" height="1"/><rect x="1253" y="389" width="1" height="1"/>
<rect x="1317" y="376" width="1" height="1"/><rect x="1317" y="389" width="1" height="1"/>
<rect x="1381" y="376" width="1" height="1"/><rect x="1381" y="389" width="1" height="1"/>
<rect x="1445" y="376" width="1" height="1"/><rect x="1445" y="389" width="1" height="1"/>
<rect x="1509" y="376" width="1" height="1"/><rect x="1509" y="389" width="1" height="1"/>
</g>
<rect x="4" y="383" width="1780" height="3" fill="#1b76fb" shape-rendering="crispEdges"/>
<rect x="4" y="545" width="1780" height="3" fill="#e8360c" shape-rendering="crispEdges"/>
<g fill="none" stroke="#d4581c" stroke-width="3" stroke-linecap="round" stroke-linejoin="round">
<polyline points="1519,388.5 1544.8,478.5 1551.4,431 1577,539"/>
<polyline points="1556,513 1577,539 1584.3,506.5"/>
</g>
</svg>
<svg width="1848" height="729" viewBox="0 0 1848 729" style="position:absolute;left:0;top:0;will-change:transform">
<g><path d="M1342.6,42.5h71a3,3 0 0 1 3,3v11a3,3 0 0 1 -3,3h-61l-5.3,6v-6h-4.7a3,3 0 0 1 -3,-3v-11a3,3 0 0 1 3,-3z" fill="#e4e7ee" fill-opacity="0.55" stroke="#d3d8e4" stroke-width="1"/>
<text x="1346" y="55" font-size="10.8" fill="#8791a5">Max: 6 764.1</text></g>
<g><path d="M50.5,673.5h59.2l5,-6v6h5a3,3 0 0 1 3,3v11a3,3 0 0 1 -3,3h-69.2a3,3 0 0 1 -3,-3v-11a3,3 0 0 1 3,-3z" fill="#e4e7ee" fill-opacity="0.55" stroke="#d3d8e4" stroke-width="1"/>
<text x="55" y="686" font-size="10.8" fill="#8791a5">Min: 6 360.1</text></g>
<circle cx="19" cy="23" r="6.3" fill="none" stroke="#77839a" stroke-width="1.1"/>
<rect x="18.5" y="21.7" width="1" height="4.6" fill="#77839a"/><rect x="18.5" y="19.5" width="1" height="1.2" fill="#77839a"/>
<text x="34" y="28.5" font-size="13" font-weight="bold" fill="#6b778e">SPX</text>
<text x="68.5" y="28.5" font-size="13" fill="#7b879c">H1</text>
<text x="1792" y="37" font-size="13" fill="#5d6a83">6 788.5</text>
<text x="1792" y="101" font-size="13" fill="#5d6a83">6 745.0</text>
<text x="1792" y="165" font-size="13" fill="#5d6a83">6 701.6</text>
<text x="1792" y="229" font-size="13" fill="#5d6a83">6 658.1</text>
<text x="1792" y="293" font-size="13" fill="#5d6a83">6 614.7</text>
<text x="1792" y="357" font-size="13" fill="#5d6a83">6 571.2</text>
<text x="1792" y="421" font-size="13" fill="#5d6a83">6 527.8</text>
<text x="1792" y="485" font-size="13" fill="#5d6a83">6 484.3</text>
<text x="1792" y="613" font-size="13" fill="#5d6a83">6 397.4</text>
<text x="1792" y="677" font-size="13" fill="#5d6a83">6 353.9</text>
<path d="M1848,312.5h-59.5a4,4 0 0 0 -4,4v13a4,4 0 0 0 4,4h59.5" fill="#fff" stroke="#cdd2de" stroke-width="1" stroke-dasharray="1.5 1.5"/>
<text x="1792" y="327" font-size="13" fill="#1b2433" stroke="#1b2433" stroke-width="0.15">6 591.<tspan fill="#e8392b" stroke="#e8392b">5</tspan></text>
<path d="M1848,374h-60a4,4 0 0 0 -4,4v13a4,4 0 0 0 4,4h60z" fill="#1b76fb"/>
<text x="1792" y="388.6" font-size="13" fill="#fff" stroke="#fff" stroke-width="0.45">6 550.0</text>
<path d="M1848,536h-60a4,4 0 0 0 -4,4v13a4,4 0 0 0 4,4h60z" fill="#e8360c"/>
<text x="1792" y="550.6" font-size="13" fill="#fff" stroke="#fff" stroke-width="0.45">6 440.0</text>
<text x="3.3" y="720" font-size="13" fill="#5d6a83">29.08 22:00</text>
<text x="165" y="720" font-size="13" text-anchor="middle" fill="#5d6a83">03.09 19:00</text>
<text x="293" y="720" font-size="13" text-anchor="middle" fill="#5d6a83">08.09 13:00</text>
<text x="421" y="720" font-size="13" text-anchor="middle" fill="#5d6a83">11.09 06:00</text>
<text x="549" y="720" font-size="13" text-anchor="middle" fill="#5d6a83">16.09 00:00</text>
<text x="677" y="720" font-size="13" text-anchor="middle" fill="#5d6a83">18.09 16:00</text>
<text x="805" y="720" font-size="13" text-anchor="middle" fill="#5d6a83">23.09 11:00</text>
<text x="933" y="720" font-size="13" text-anchor="middle" fill="#5d6a83">26.09 03:00</text>
<text x="1061" y="720" font-size="13" text-anchor="middle" fill="#5d6a83">30.09 21:00</text>
<text x="1189" y="720" font-size="13" text-anchor="middle" fill="#5d6a83">03.10 15:00</text>
<text x="1317" y="720" font-size="13" text-anchor="middle" fill="#5d6a83">08.10 10:00</text>
<text x="1445" y="720" font-size="13" text-anchor="middle" fill="#5d6a83">13.10 05:00</text>
<text x="1573" y="720" font-size="13" text-anchor="middle" fill="#5d6a83">15.10 21:00</text>
<text x="1701" y="720" font-size="13" text-anchor="middle" fill="#5d6a83">18.10 13:00</text>
</svg></body></html>
